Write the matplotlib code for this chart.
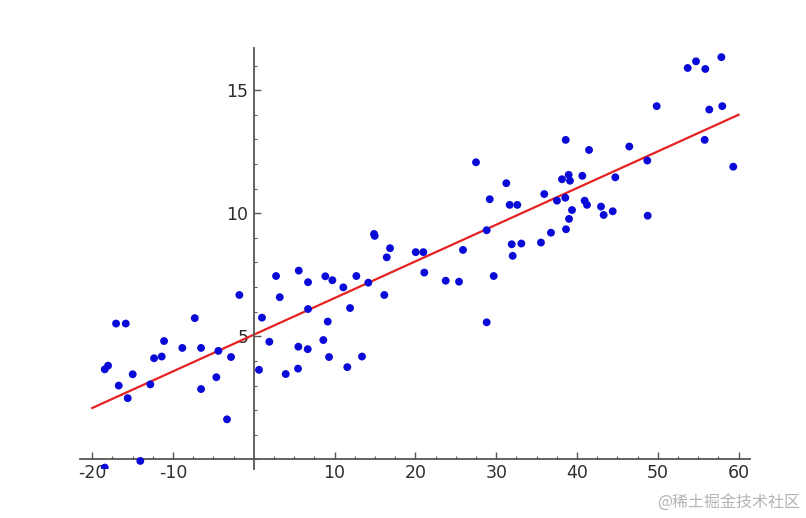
import matplotlib
matplotlib.use("Agg")
import matplotlib.pyplot as plt
from matplotlib.ticker import MultipleLocator, FixedLocator

# ---- data ----
pts_x = [-1.79, -17.05, -15.85, -7.31, -11.11, -8.85, -6.53, -12.35, -11.40, -4.39,
         -2.82, -18.04, -18.45, -14.99, -16.72, -12.81, -15.61, -4.64, -6.53, -3.32,
         -14.05, -18.45,
         14.88, 14.96, 16.86, 16.45, 20.04, 20.98, 21.10, 23.75, 2.75, 5.56,
         6.71, 8.85, 9.72, 12.69, 11.08, 14.17, 3.21, 6.71, 16.15, 11.91,
         1.01, 9.15, 1.92, 8.60, 5.51, 6.67, 9.31, 13.39, 0.64, 3.95, 5.47, 11.57,
         38.60, 41.49, 46.47, 27.50, 31.25, 38.14, 38.97, 39.13, 40.66, 44.74,
         29.20, 31.67, 32.61, 35.95, 37.52, 38.55, 40.95, 41.24, 39.38, 42.97,
         43.30, 44.42, 39.01, 28.82, 36.78, 38.64, 31.92, 33.11, 35.54, 32.04,
         25.89, 25.40, 29.69, 28.82,
         57.87, 54.73, 53.70, 55.88, 49.86, 56.37, 57.98, 48.70, 55.80, 59.34, 48.75]
pts_y = [6.68, 5.52, 5.52, 5.74, 4.81, 4.53, 4.53, 4.11, 4.18, 4.41,
         4.16, 3.81, 3.66, 3.46, 3.00, 3.05, 2.49, 3.34, 2.86, 1.63,
         -0.06, -0.33,
         9.16, 9.08, 8.58, 8.21, 8.42, 8.42, 7.59, 7.26, 7.45, 7.67,
         7.20, 7.44, 7.28, 7.45, 6.99, 7.18, 6.59, 6.11, 6.68, 6.15,
         5.76, 5.60, 4.78, 4.85, 4.58, 4.48, 4.16, 4.18, 3.64, 3.47, 3.69, 3.75,
         12.98, 12.57, 12.71, 12.07, 11.22, 11.38, 11.56, 11.32, 11.52, 11.46,
         10.57, 10.34, 10.34, 10.78, 10.51, 10.63, 10.51, 10.34, 10.13, 10.27,
         9.93, 10.08, 9.77, 9.31, 9.21, 9.35, 8.74, 8.77, 8.81, 8.27,
         8.51, 7.22, 7.45, 5.57,
         16.34, 16.17, 15.90, 15.86, 14.35, 14.21, 14.35, 12.14, 12.98, 11.89, 9.90]

line_x = [-20, 60]
line_y = [2.09, 14.0]

x_ticks = [-20, -10, 10, 20, 30, 40, 50, 60]
y_ticks = [5, 10, 15]
watermark = "@稀土掘金技术社区"

# ---- figure ----
W, H = 806, 518
fig = plt.figure(figsize=(W / 100, H / 100), dpi=100)
ax = fig.add_axes([0.0994, 0.094, 0.831, 0.8128])

ax.plot(line_x, line_y, color="#e52222", lw=1.6, zorder=2)
ax.scatter(pts_x, pts_y, s=32, color="#0a0ad8", edgecolors="none", zorder=3)

ax.set_xlim(-21.5, 61.4)
ax.set_ylim(-0.4, 16.7)

axis_col = "#555555"
for s in ["top", "right"]:
    ax.spines[s].set_visible(False)
ax.spines["left"].set_position(("data", 0))
ax.spines["bottom"].set_position(("data", 0))
for s in ["left", "bottom"]:
    ax.spines[s].set_color(axis_col)
    ax.spines[s].set_linewidth(1.3)

ax.xaxis.set_major_locator(FixedLocator(x_ticks))
ax.yaxis.set_major_locator(FixedLocator(y_ticks))
ax.xaxis.set_minor_locator(MultipleLocator(2.5))
ax.yaxis.set_minor_locator(MultipleLocator(1))

ax.tick_params(axis="both", which="major", direction="in", length=5, width=1.0,
               color=axis_col, labelsize=12.5, labelcolor="#2e2e2e", pad=3)
ax.tick_params(axis="both", which="minor", direction="in", length=2.5, width=0.8,
               color=axis_col)
ax.tick_params(axis="y", which="major", pad=4)

ax.set_xticklabels([str(v) for v in x_ticks])
ax.set_yticklabels([str(v) for v in y_ticks])

fig.text(0.993, 0.029, watermark, ha="right", va="center", fontsize=11.5,
         color="#b4b4b4", family=["Noto Sans CJK SC", "DejaVu Sans"])

fig.savefig("out.png", dpi=100)
